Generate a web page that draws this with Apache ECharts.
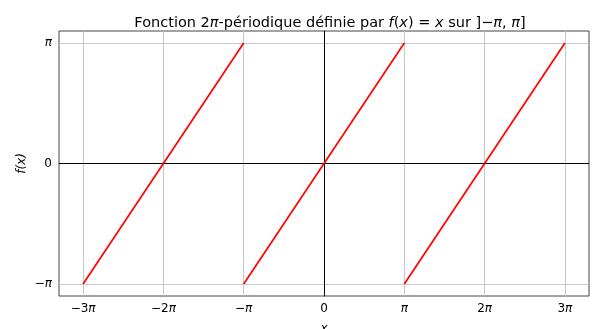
<!DOCTYPE html>
<html>
<head>
<meta charset="utf-8">
<script src="https://cdn.jsdelivr.net/npm/echarts@6/dist/echarts.min.js"></script>
<style>
    html, body { margin: 0; padding: 0; background: #fff; }
    #chart { width: 592px; height: 329px; }
</style>
</head>
<body>
<div id="chart"></div>
<script>
    const PI = Math.PI

    // tick positions (multiples of pi) and their labels
    const xTicks = [-3, -2, -1, 0, 1, 2, 3]
    const xTickLabels = ['−3π', '−2π', '−π', '0', 'π', '2π', '3π']
    const yTicks = [-1, 0, 1]
    const yTickLabels = ['−π', '0', 'π']

    // the three periods of f, endpoints
    const period1 = [[-3 * PI, -PI], [-PI, PI]]
    const period2 = [[-PI, -PI], [PI, PI]]
    const period3 = [[PI, -PI], [3 * PI, PI]]

    const font = 'DejaVu Sans'

    function tickLabel(list, values) {
        return function (v) {
            for (let i = 0; i < values.length; i++) {
                if (Math.abs(values[i] * PI - v) < 1e-6) return list[i].replace('π', '{i|π}')
            }
            return ''
        }
    }

    const labelRich = {
        i: {fontFamily: font, fontSize: 12, color: '#000', fontStyle: 'italic'}
    }

    const gridLine = {color: '#c8c8c8', width: 1, type: 'solid'}
    let gridMarks = []
    xTicks.forEach(t => { if (t !== 0) gridMarks.push({xAxis: t * PI, lineStyle: gridLine}) })
    yTicks.forEach(t => { if (t !== 0) gridMarks.push({yAxis: t * PI, lineStyle: gridLine}) })
    gridMarks.push({xAxis: 0, lineStyle: {color: '#000', width: 1, type: 'solid'}})
    gridMarks.push({yAxis: 0, lineStyle: {color: '#000', width: 1, type: 'solid'}})

    const redLine = {color: '#ff0000', width: 1.7}

    let option = {
        animation: false,
        title: {
            text: '{n|Fonction 2}{i|π}{n|-périodique définie par }{i|f}{n|(}{i|x}{n|) = }{i|x}{n| sur ]−}{i|π}{n|, }{i|π}{n|]}',
            left: 325,
            textAlign: 'center',
            top: 11,
            textStyle: {
                fontWeight: 'normal',
                rich: {
                    n: {fontFamily: font, fontSize: 14.5, color: '#000', fontWeight: 'normal'},
                    i: {fontFamily: font, fontSize: 14.5, color: '#000', fontWeight: 'normal', fontStyle: 'italic'}
                }
            }
        },
        grid: {
            left: 59,
            right: 3,
            top: 31,
            bottom: 33,
            outerBoundsMode: 'none',
            show: true,
            borderColor: '#444',
            borderWidth: 1
        },
        xAxis: {
            type: 'value',
            min: -3.3 * PI,
            max: 3.3 * PI,
            name: 'x',
            nameLocation: 'middle',
            nameGap: 27,
            nameTextStyle: {fontFamily: font, fontSize: 12, fontStyle: 'italic', color: '#000'},
            axisLine: {show: false},
            splitLine: {show: false},
            axisTick: {show: true, length: 4, lineStyle: {color: '#000'}, customValues: xTicks.map(t => t * PI)},
            axisLabel: {
                customValues: xTicks.map(t => t * PI),
                formatter: tickLabel(xTickLabels, xTicks),
                rich: labelRich,
                fontFamily: font, fontSize: 12, color: '#000', margin: 7
            }
        },
        yAxis: {
            type: 'value',
            min: -1.1 * PI,
            max: 1.1 * PI,
            name: 'f(x)',
            nameLocation: 'middle',
            nameGap: 31,
            nameMoveOverlap: false,
            nameRotate: 90,
            nameTextStyle: {fontFamily: font, fontSize: 12, fontStyle: 'italic', color: '#000'},
            axisLine: {show: true, lineStyle: {color: '#000'}},
            splitLine: {show: false},
            axisTick: {show: true, length: 4, lineStyle: {color: '#000'}, customValues: yTicks.map(t => t * PI)},
            axisLabel: {
                customValues: yTicks.map(t => t * PI),
                formatter: tickLabel(yTickLabels, yTicks),
                rich: labelRich,
                fontFamily: font, fontSize: 12, color: '#000', margin: 7
            }
        },
        series: [
            {
                type: 'line',
                data: period1,
                showSymbol: false,
                lineStyle: redLine,
                z: 3,
                markLine: {
                    silent: true,
                    symbol: 'none',
                    label: {show: false},
                    data: gridMarks,
                    z: 1
                }
            },
            {type: 'line', data: period2, showSymbol: false, lineStyle: redLine, z: 3},
            {type: 'line', data: period3, showSymbol: false, lineStyle: redLine, z: 3}
        ]
    }

    let myChart = echarts.init(document.getElementById('chart'), null, {renderer: 'canvas'})
    myChart.setOption(option)
</script>
</body>
</html>
